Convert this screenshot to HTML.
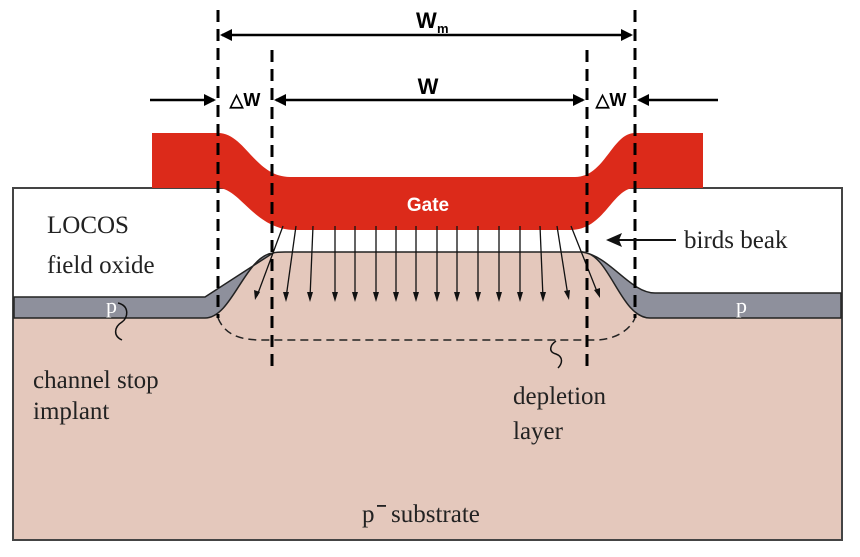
<!DOCTYPE html>
<html><head><style>body{margin:0;background:#fff}</style></head><body>
<svg width="860" height="552" viewBox="0 0 860 552" xmlns="http://www.w3.org/2000/svg">
<rect x="13" y="188" width="829" height="352" fill="#fff" stroke="#444" stroke-width="2"/>
<!-- substrate -->
<path d="M14,318 L205,318 C230,318 245,253 280,252 L580,252 C610,253 620,318 650,318 L841,318 L841,539 L14,539 Z" fill="#e4c8bc"/>
<!-- gray p layer left -->
<path d="M14,297 L205,297 L273,253 C245,256 232,318 205,318 L14,318 Z" fill="#8e909c" stroke="#222" stroke-width="1.5"/>
<!-- gray right -->
<path d="M582,252 C610,256 630,293 655,293 L841,293 L841,318 L650,318 C620,318 610,253 582,252 Z" fill="#8e909c" stroke="#222" stroke-width="1.5"/>
<path d="M273,253 C276,252 280,252 285,252 L582,252" fill="none" stroke="#222" stroke-width="1.5"/>
<!-- gate -->
<path d="M152,133 L218,133 C245,133 255,177 290,177 L575,177 C605,177 612,133 635,133 L703,133 L703,188 L635,188 C612,188 605,230 570,230 L295,230 C255,230 240,188 218,188 L152,188 Z" fill="#dc2a1a"/>
<text x="428" y="211" font-family="Liberation Sans,sans-serif" font-weight="bold" font-size="19" fill="#fff" text-anchor="middle">Gate</text>
<!-- field arrows -->
<g stroke="#111" stroke-width="1.3">
<line x1="283" y1="226" x2="257" y2="296"/>
<line x1="296" y1="226" x2="286" y2="298"/>
<line x1="313" y1="226" x2="310" y2="298"/>
<line x1="335" y1="226" x2="335" y2="298"/>
<line x1="355" y1="226" x2="355" y2="298"/>
<line x1="376" y1="226" x2="376" y2="298"/>
<line x1="396" y1="226" x2="396" y2="298"/>
<line x1="416" y1="226" x2="416" y2="298"/>
<line x1="437" y1="226" x2="437" y2="298"/>
<line x1="457" y1="226" x2="457" y2="298"/>
<line x1="478" y1="226" x2="478" y2="298"/>
<line x1="499" y1="226" x2="499" y2="298"/>
<line x1="520" y1="226" x2="520" y2="298"/>
<line x1="540" y1="226" x2="543" y2="298"/>
<line x1="557" y1="226" x2="568" y2="296"/>
<line x1="571" y1="226" x2="598" y2="294"/>
</g>
<g fill="#111">
<path d="M255,300 L254,290 L260,292 Z"/>
<path d="M286,302 L283,292 L289,292 Z"/>
<path d="M310,302 L307,292 L313,292 Z"/>
<path d="M335,302 L332,292 L338,292 Z"/><path d="M355,302 L352,292 L358,292 Z"/>
<path d="M376,302 L373,292 L379,292 Z"/><path d="M396,302 L393,292 L399,292 Z"/>
<path d="M416,302 L413,292 L419,292 Z"/><path d="M437,302 L434,292 L440,292 Z"/>
<path d="M457,302 L454,292 L460,292 Z"/><path d="M478,302 L475,292 L481,292 Z"/>
<path d="M499,302 L496,292 L502,292 Z"/><path d="M520,302 L517,292 L523,292 Z"/>
<path d="M543,302 L540,292 L546,292 Z"/>
<path d="M569,300 L564,291 L570,290 Z"/>
<path d="M600,298 L594,290 L600,288 Z"/>
</g>
<!-- depletion -->
<path d="M218,318 C225,335 240,340 262,340 L595,340 C615,340 630,330 635,318" fill="none" stroke="#222" stroke-width="1.5" stroke-dasharray="8,5"/>
<!-- dashed verticals -->
<g stroke="#000" stroke-width="3" stroke-dasharray="12,7">
<line x1="218" y1="10" x2="218" y2="318"/>
<line x1="635" y1="10" x2="635" y2="318"/>
<line x1="272" y1="50" x2="272" y2="370"/>
<line x1="587" y1="50" x2="587" y2="370"/>
</g>
<!-- dims -->
<g stroke="#000" stroke-width="2.5">
<line x1="222" y1="35" x2="631" y2="35"/>
<line x1="276" y1="100" x2="583" y2="100"/>
<line x1="150" y1="100" x2="214" y2="100"/>
<line x1="718" y1="100" x2="639" y2="100"/>
</g>
<g fill="#000">
<path d="M220,35 L232,29 L232,41 Z"/><path d="M633,35 L621,29 L621,41 Z"/>
<path d="M274,100 L286,94 L286,106 Z"/><path d="M585,100 L573,94 L573,106 Z"/>
<path d="M216,100 L204,94 L204,106 Z"/><path d="M637,100 L649,94 L649,106 Z"/>
</g>
<g font-family="Liberation Sans,sans-serif" font-weight="bold" fill="#000">
<text x="416" y="28" font-size="22">W</text><text x="437" y="33" font-size="13">m</text>
<text x="428" y="94" font-size="22" text-anchor="middle">W</text>
<text x="245" y="106" font-size="18" text-anchor="middle">△W</text>
<text x="611" y="106" font-size="18" text-anchor="middle">△W</text>
</g>
<!-- birds beak arrow -->
<line x1="676" y1="240" x2="618" y2="240" stroke="#111" stroke-width="2"/>
<path d="M606,240 L622,233 L619,240 L622,247 Z" fill="#111"/>
<!-- squiggles -->
<path d="M118,303 C130,306 128,318 122,322 C114,327 113,336 122,340" fill="none" stroke="#111" stroke-width="1.5"/>
<path d="M556,341 C550,345 548,352 556,354 C564,357 562,364 558,368" fill="none" stroke="#111" stroke-width="1.5"/>
<g font-family="Liberation Serif,serif" fill="#222" font-size="25">
<text x="47" y="233">LOCOS</text>
<text x="47" y="273">field oxide</text>
<text x="684" y="248">birds beak</text>
<text x="33" y="388">channel stop</text>
<text x="33" y="419">implant</text>
<text x="513" y="404">depletion</text>
<text x="513" y="439">layer</text>
<text x="362" y="522">p</text>
<rect x="377" y="505" width="9" height="1.8" fill="#222"/>
<text x="391" y="522">substrate</text>
<text x="106" y="313" fill="#fff" font-size="22">p</text>
<text x="736" y="313" fill="#fff" font-size="22">p</text>
</g>
</svg>
</body></html>
